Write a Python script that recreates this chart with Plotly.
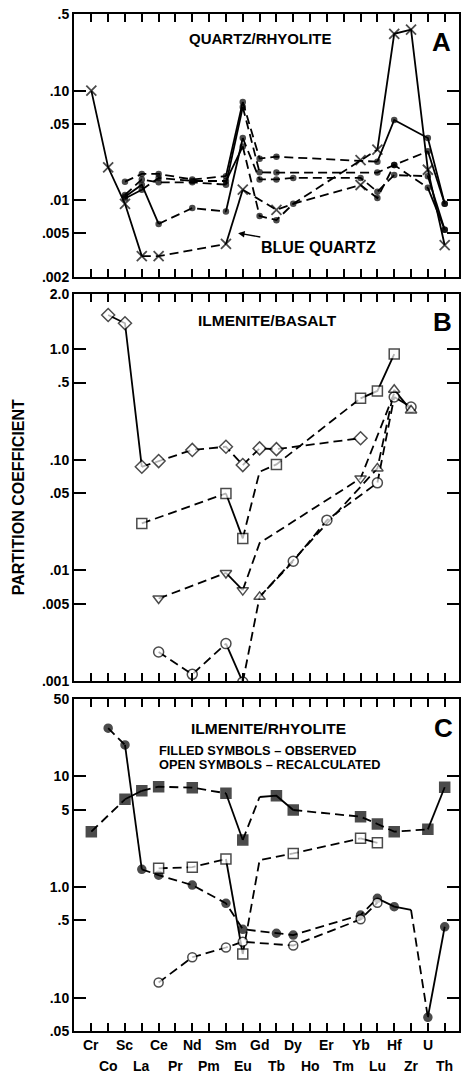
import math
import plotly.graph_objects as go

CATS = ["Cr", "Co", "Sc", "La", "Ce", "Pr", "Nd", "Pm", "Sm", "Eu", "Gd",
        "Tb", "Dy", "Ho", "Er", "Tm", "Yb", "Lu", "Hf", "Zr", "U", "Th"]

# ---------------- Panel A : quartz / rhyolite ----------------
A_blue_cats = ["Cr", "Co", "Sc", "La", "Ce", "Sm", "Eu", "Tb", "Dy", "Yb", "Lu", "Hf", "Zr", "U", "Th"]
A_blue_vals = [0.10, 0.020, 0.0093, 0.0031, 0.0031, 0.0040, 0.0125, 0.0082, 0.0093, 0.0233, 0.029, 0.33, 0.36, 0.019, 0.0039]

A_d1_cats = ["Sc", "La", "Ce", "Nd", "Sm", "Eu", "Gd", "Tb", "Yb", "Lu", "Hf", "U", "Th"]
A_d1_vals = [0.0148, 0.0174, 0.0174, 0.0155, 0.0166, 0.079, 0.024, 0.025, 0.023, 0.0225, 0.054, 0.037, 0.0093]

A_d2_cats = ["Sc", "La", "Ce", "Nd", "Sm", "Eu", "Gd", "Tb", "Lu", "Hf", "U", "Th"]
A_d2_vals = [0.0112, 0.0155, 0.0146, 0.0146, 0.0139, 0.071, 0.018, 0.0179, 0.0179, 0.021, 0.028, 0.0093]

A_d3_cats = ["Sc", "La", "Ce", "Nd", "Sm", "Eu", "Gd", "Tb", "Dy", "Yb", "Lu", "Hf", "U", "Th"]
A_d3_vals = [0.0108, 0.0139, 0.0061, 0.0085, 0.0079, 0.037, 0.0155, 0.0155, 0.016, 0.016, 0.012, 0.017, 0.0166, 0.0054]

A_d4_cats = ["Sc", "La", "Ce", "Nd", "Sm", "Eu", "Gd", "Tb", "Dy", "Yb", "Lu", "Hf", "U", "Th"]
A_d4_vals = [0.0104, 0.0125, 0.016, 0.0150, 0.0150, 0.031, 0.0072, 0.0066, 0.0093, 0.0138, 0.0105, 0.021, 0.013, 0.0054]

# ---------------- Panel B : ilmenite / basalt ----------------
B_dia_cats = ["Co", "Sc", "La", "Ce", "Nd", "Sm", "Eu", "Gd", "Tb", "Yb"]
B_dia_vals = [2.04, 1.72, 0.0866, 0.0975, 0.123, 0.1315, 0.0897, 0.127, 0.125, 0.157]

B_sq_cats = ["La", "Sm", "Eu", "Gd", "Tb", "Yb", "Lu", "Hf"]
B_sq_vals = [0.0266, 0.0497, 0.0195, 0.078, 0.091, 0.36, 0.42, 0.906]

B_dtri_cats = ["Ce", "Sm", "Eu", "Gd", "Yb", "Hf"]
B_dtri_vals = [0.00558, 0.0095, 0.00664, 0.0177, 0.068, 0.40]

B_utri_cats = ["Gd", "Lu", "Hf", "Zr"]
B_utri_vals = [0.00577, 0.0837, 0.43, 0.28]

B_circ_cats = ["Ce", "Nd", "Sm", "Eu", "Gd", "Dy", "Er", "Lu", "Hf", "Zr"]
B_circ_vals = [0.00183, 0.00115, 0.00218, 0.00098, 0.00577, 0.0121, 0.0285, 0.062, 0.37, 0.30]

# ---------------- Panel C : ilmenite / rhyolite ----------------
C_fcirc_cats = ["Co", "Sc", "La", "Ce", "Nd", "Sm", "Eu", "Tb", "Dy", "Yb", "Lu", "Hf", "Zr", "U", "Th"]
C_fcirc_vals = [27.2, 19.2, 1.445, 1.28, 1.04, 0.712, 0.415, 0.382, 0.368, 0.558, 0.79, 0.664, 0.62, 0.0665, 0.437]

C_fsq_cats = ["Cr", "Sc", "La", "Ce", "Nd", "Sm", "Eu", "Gd", "Tb", "Dy", "Yb", "Lu", "Hf", "U", "Th"]
C_fsq_vals = [3.16, 6.2, 7.4, 8.06, 7.9, 7.03, 2.66, 6.5, 6.68, 4.96, 4.32, 3.71, 3.16, 3.32, 7.96]

C_osq_cats = ["Ce", "Nd", "Sm", "Eu", "Gd", "Dy", "Yb", "Lu"]
C_osq_vals = [1.476, 1.51, 1.79, 0.248, 1.75, 2.01, 2.75, 2.51]

C_ocirc_cats = ["Ce", "Nd", "Sm", "Eu", "Dy", "Yb", "Lu"]
C_ocirc_vals = [0.137, 0.232, 0.284, 0.32, 0.296, 0.51, 0.721]

# y tick labels
A_ticks = [0.002, 0.005, 0.01, 0.05, 0.10, 0.5]
A_ticktext = [".002", ".005", ".01", ".05", ".10", ".5"]
B_ticks = [0.001, 0.005, 0.01, 0.05, 0.10, 0.5, 1.0, 10 ** 0.5]
B_ticktext = [".001", ".005", ".01", ".05", ".10", ".5", "1.0", "2.0"]
C_ticks = [0.05, 0.10, 0.5, 1.0, 5, 10, 50]
C_ticktext = [".05", ".10", ".5", "1.0", "5", "10", "50"]

# ---------------- styling ----------------
FONT = "Liberation Sans, Arial, Helvetica, sans-serif"
LW = 1.8
DASH = "9px,5px"

fig = go.Figure()
marker_queue = {1: [], 2: [], 3: []}


def add_series(ax, cats, vals, symbol, filled, size, segs, hidden=(), xmarks=()):
    xs = [CATS.index(c) for c in cats]
    xa, ya = ("x" if ax == 1 else f"x{ax}"), ("y" if ax == 1 else f"y{ax}")
    i = 0
    while i < len(segs):
        j = i
        while j + 1 < len(segs) and segs[j + 1] == segs[i]:
            j += 1
        fig.add_trace(go.Scatter(
            x=xs[i:j + 2], y=vals[i:j + 2], mode="lines", xaxis=xa, yaxis=ya,
            line=dict(color="black", width=LW, dash="solid" if segs[i] == "s" else DASH),
            hoverinfo="skip", showlegend=False))
        i = j + 1
    mx, my, ms = [], [], []
    for c, x, v in zip(cats, xs, vals):
        if c in hidden:
            continue
        mx.append(x)
        my.append(v)
        ms.append("x-thin" if c in xmarks else symbol)
    marker_queue[ax].append((mx, my, ms, filled, size, xa, ya))


# Panel A
add_series(1, A_blue_cats, A_blue_vals, "x-thin", True, 11, "sssddsddddssss", hidden=("Dy",))
add_series(1, A_d1_cats, A_d1_vals, "circle", True, 5, "ddddsddddsss", hidden=("Yb",))
add_series(1, A_d2_cats, A_d2_vals, "circle", True, 5, "ddddsddddds")
add_series(1, A_d3_cats, A_d3_vals, "circle", True, 5, "ssddsddddddds")
add_series(1, A_d4_cats, A_d4_vals, "circle", True, 5, "sdddsddddddds", xmarks=("Yb",))

# Panel B
add_series(2, B_dia_cats, B_dia_vals, "diamond", False, 10, "ssddddddd")
add_series(2, B_sq_cats, B_sq_vals, "square", False, 10, "dsdddss", hidden=("Gd",))
add_series(2, B_dtri_cats, B_dtri_vals, "triangle-down", False, 10, "dsddd", hidden=("Gd", "Hf"))
add_series(2, B_circ_cats, B_circ_vals, "circle", False, 10, "ddsddddds", hidden=("Gd",))
add_series(2, B_utri_cats, B_utri_vals, "triangle-up", False, 10, "dds")

# Panel C
add_series(3, C_fsq_cats, C_fsq_vals, "square", True, 10, "dsdddsdssdddds", hidden=("Gd",))
add_series(3, C_fcirc_cats, C_fcirc_vals, "circle", True, 8, "dsddddddddssds", hidden=("Zr",))
add_series(3, C_osq_cats, C_osq_vals, "square", False, 10, "ddsddds", hidden=("Gd",))
add_series(3, C_ocirc_cats, C_ocirc_vals, "circle", False, 9, "dddddd")

for ax in (1, 2, 3):
    for mx, my, ms, filled, size, xa, ya in marker_queue[ax]:
        xlike = ["x-thin" == s for s in ms]
        fig.add_trace(go.Scatter(
            x=mx, y=my, mode="markers", xaxis=xa, yaxis=ya,
            marker=dict(symbol=ms,
                        size=[10 if xl else size for xl in xlike],
                        color="black" if filled else "white",
                        line=dict(color="black", width=[1.8 if xl else 1.5 for xl in xlike])),
            hoverinfo="skip", showlegend=False))

# ---------------- axes ----------------
domains = {1: [0.7414, 1.0], 2: [0.3441, 0.7247], 3: [0.0, 0.3265]}
yranges = {1: [math.log10(0.002), math.log10(0.5)], 2: [-3, 0.5], 3: [math.log10(0.05), math.log10(50)]}
yticks = {1: (A_ticks, A_ticktext), 2: (B_ticks, B_ticktext), 3: (C_ticks, C_ticktext)}

layout = dict(
    width=462, height=1074,
    margin=dict(l=74, r=1, t=14, b=43),
    paper_bgcolor="white", plot_bgcolor="white",
    font=dict(family=FONT, color="black"),
    showlegend=False,
)
for ax in (1, 2, 3):
    sx = "" if ax == 1 else str(ax)
    layout["xaxis" + sx] = dict(
        domain=[0, 1], range=[-1.03, 21.85], anchor="y" + sx,
        tickvals=list(range(len(CATS))), showticklabels=False,
        ticks="inside", ticklen=8, tickwidth=1.5, tickcolor="black",
        mirror="ticks", showline=True, linewidth=2, linecolor="black",
        showgrid=False, zeroline=False)
    tv, tt = yticks[ax]
    layout["yaxis" + sx] = dict(
        type="log", domain=domains[ax], range=yranges[ax], anchor="x" + sx,
        tickvals=tv, ticktext=["<b>%s</b>" % t for t in tt],
        tickfont=dict(size=14, family=FONT, color="black"),
        ticks="inside", ticklen=12, tickwidth=1.5, tickcolor="black",
        mirror="ticks", showline=True, linewidth=2, linecolor="black",
        showgrid=False, zeroline=False)

fig.update_layout(**layout)


def px2paper(px, py):
    return (px - 74) / 387.0, (1031 - py) / 1017.0


annotations = []


def text(px, py, s, size, xanchor="center", **kw):
    x, y = px2paper(px, py)
    d = dict(x=x, y=y, xref="paper", yref="paper", text="<b>%s</b>" % s,
             showarrow=False, xanchor=xanchor, yanchor="middle",
             font=dict(size=size, family=FONT, color="black"))
    d.update(kw)
    annotations.append(d)


text(261, 38, "QUARTZ/RHYOLITE", 15)
text(443, 42, "A", 26)
text(268.5, 320, "ILMENITE/BASALT", 15.5)
text(444, 322, "B", 26)
text(269.5, 728, "ILMENITE/RHYOLITE", 15.5)
text(445, 728, "C", 26)
text(157, 750, "FILLED SYMBOLS \u2013 OBSERVED", 12.8, xanchor="left")
text(157, 765, "OPEN SYMBOLS \u2013 RECALCULATED", 12.8, xanchor="left")
text(18, 497, "PARTITION COEFFICIENT", 16, textangle=-90)

hx, hy = px2paper(238, 233)
annotations.append(dict(x=hx, y=hy, xref="paper", yref="paper", text="<b>BLUE QUARTZ</b>",
                        showarrow=True, arrowhead=2, arrowsize=1, arrowwidth=1.3,
                        arrowcolor="black", ax=81, ay=14, standoff=1,
                        font=dict(size=16, family=FONT, color="black")))

for i, c in enumerate(CATS):
    py = 1045 if i % 2 == 0 else 1066
    annotations.append(dict(x=i, y=(1031 - py) / 1017.0, xref="x3", yref="paper",
                            text="<b>%s</b>" % c, showarrow=False,
                            xanchor="center", yanchor="middle",
                            font=dict(size=14, family=FONT, color="black")))

fig.update_layout(annotations=annotations)
fig.write_html("out.html", config={"displayModeBar": False},
               post_script="document.body.style.margin='0';document.body.style.overflow='hidden';")
